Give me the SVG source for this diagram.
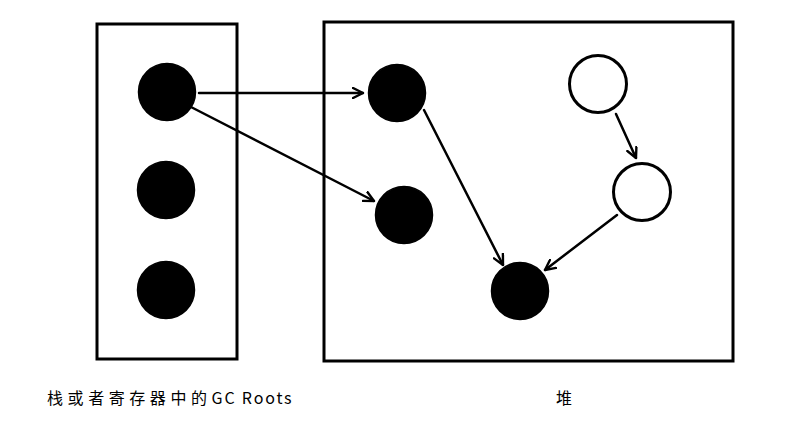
<svg xmlns="http://www.w3.org/2000/svg" width="786" height="426" viewBox="0 0 786 426">
<style>
.box{fill:none;stroke:#000;stroke-width:3}
.full{fill:#000;stroke:#000;stroke-width:1.5}
.empty{fill:#fff;stroke:#000;stroke-width:3}
.edge{fill:none;stroke:#000;stroke-width:2.5;stroke-linecap:round;marker-end:url(#arr)}
.lbl{font-family:"Noto Sans CJK SC","Noto Sans",sans-serif;font-size:16px;fill:#000}
</style>
<defs>
<marker id="arr" viewBox="0 0 12 12" refX="11" refY="6" markerWidth="12" markerHeight="12" markerUnits="userSpaceOnUse" orient="auto">
<path d="M1,1 L11,6 L1,11" fill="none" stroke="#000" stroke-width="2.4" stroke-linecap="round" stroke-linejoin="round"/>
</marker>
</defs>
<g id="stack"><rect class="box" x="97" y="24" width="140" height="335"/></g>
<g id="heap"><rect class="box" x="324" y="22" width="409" height="339"/></g>
<g id="root1"><circle class="full" cx="167" cy="92" r="28.5"/></g>
<g id="root2"><circle class="full" cx="166" cy="190" r="28.5"/></g>
<g id="root3"><circle class="full" cx="166" cy="290" r="28.5"/></g>
<g id="obj1"><circle class="full" cx="397" cy="93" r="28.5"/></g>
<g id="obj2"><circle class="full" cx="404" cy="215" r="28.5"/></g>
<g id="obj3"><circle class="full" cx="520" cy="291" r="28.5"/></g>
<g id="obj4"><circle class="empty" cx="598" cy="84" r="28.5"/></g>
<g id="obj5"><circle class="empty" cx="642" cy="192" r="28.5"/></g>
<g id="connectors">
<line class="edge" x1="199" y1="93" x2="363" y2="93"/>
<line class="edge" x1="191" y1="107" x2="374" y2="201"/>
<line class="edge" x1="424" y1="110" x2="503" y2="265"/>
<line class="edge" x1="616" y1="114" x2="636" y2="158"/>
<line class="edge" x1="617" y1="215" x2="545" y2="270"/>
</g>
<text class="lbl" x="47" y="404"><tspan textLength="160" lengthAdjust="spacing">栈或者寄存器中的</tspan><tspan textLength="80" lengthAdjust="spacing">GC Roots</tspan></text>
<text class="lbl" x="556" y="404">堆</text>
</svg>
